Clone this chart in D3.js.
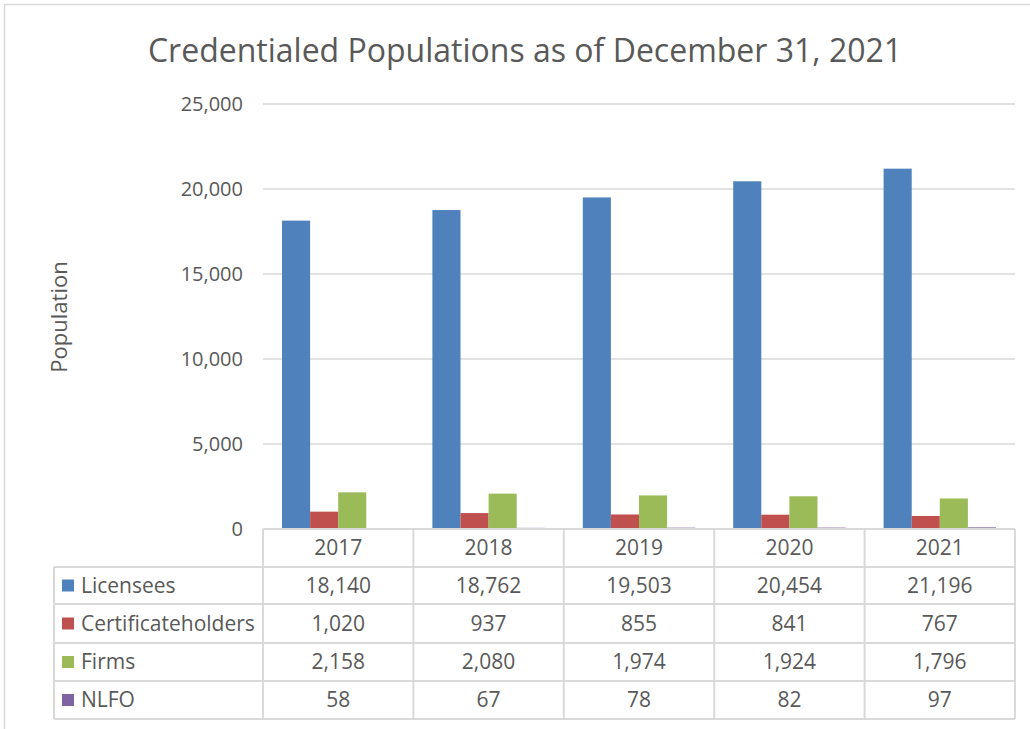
<!DOCTYPE html>
<html>
<head>
<meta charset="utf-8">
<script src="https://cdn.jsdelivr.net/npm/d3@7"></script>
<style>
body { margin: 0; background: #fff; }
svg { display: block; font-family: "Open Sans", sans-serif; }
</style>
</head>
<body>
<svg id="chart" width="1030" height="729"></svg>
<script>
var years = ['2017', '2018', '2019', '2020', '2021']
var seriesNames = ['Licensees', 'Certificateholders', 'Firms', 'NLFO']
var licensees = [18140, 18762, 19503, 20454, 21196]
var certificateholders = [1020, 937, 855, 841, 767]
var firms = [2158, 2080, 1974, 1924, 1796]
var nlfo = [58, 67, 78, 82, 97]
var yTicks = [0, 5000, 10000, 15000, 20000, 25000]
var colors = ['#4f81bd', '#c0504d', '#9bbb59', '#8064a2']

var values = [licensees, certificateholders, firms, nlfo]
var svg = d3.select('#chart')
var fmt = d3.format(',')
var textColor = '#595959'
var lineColor = '#d9d9d9'

// outer frame
svg.append('rect')
    .attr('x', 4.5).attr('y', 4.5)
    .attr('width', 1040).attr('height', 740)
    .attr('fill', 'none').attr('stroke', '#d9d9d9').attr('stroke-width', 1.5)

svg.append('text')
    .attr('x', 525).attr('y', 62)
    .attr('text-anchor', 'middle')
    .attr('font-size', 32)
    .attr('fill', textColor)
    .text('Credentialed Populations as of December 31, 2021')

var x0 = d3.scaleBand().domain(years).range([263, 1015])
var x1 = d3.scaleBand().domain(seriesNames).range([19, x0.bandwidth() - 19])
var y = d3.scaleLinear().domain([0, 25000]).range([529, 104])

// gridlines
svg.append('g').selectAll('line')
    .data(yTicks)
    .enter()
    .append('line')
    .attr('x1', 263).attr('x2', 1015)
    .attr('y1', d => y(d)).attr('y2', d => y(d))
    .attr('stroke', lineColor).attr('stroke-width', 1.5)

svg.append('g').selectAll('text')
    .data(yTicks)
    .enter()
    .append('text')
    .attr('x', 243)
    .attr('y', d => y(d) + 7)
    .attr('text-anchor', 'end')
    .attr('font-size', 20)
    .attr('fill', textColor)
    .text(d => fmt(d))

svg.append('text')
    .attr('transform', 'translate(67,317) rotate(-90)')
    .attr('text-anchor', 'middle')
    .attr('font-size', 22)
    .attr('fill', textColor)
    .text('Population')

// bars
svg.append('g').selectAll('g')
    .data(seriesNames)
    .enter()
    .append('g')
    .attr('fill', (d, i) => colors[i])
    .selectAll('rect')
    .data((d, i) => values[i].map((v, j) => ({ s: d, year: years[j], v: v })))
    .enter()
    .append('rect')
    .attr('x', d => x0(d.year) + x1(d.s))
    .attr('width', x1.bandwidth())
    .attr('y', d => y(d.v))
    .attr('height', d => y(0) - y(d.v))

// data table
var rowTop = [529, 567, 604, 643, 681, 719]
var tbl = svg.append('g')
    .attr('stroke', lineColor).attr('stroke-width', 2)
tbl.selectAll('line.h')
    .data(rowTop)
    .enter()
    .append('line')
    .attr('x1', (d, i) => i < 1 ? 263 : 54)
    .attr('x2', 1015)
    .attr('y1', d => d).attr('y2', d => d)
var vx = years.map(d => x0(d)).concat([1015])
tbl.selectAll('line.v')
    .data(vx)
    .enter()
    .append('line')
    .attr('x1', d => d).attr('x2', d => d)
    .attr('y1', rowTop[0]).attr('y2', rowTop[5])
tbl.append('line')
    .attr('x1', 54).attr('x2', 54)
    .attr('y1', rowTop[1]).attr('y2', rowTop[5])

svg.append('g').selectAll('text')
    .data(years)
    .enter()
    .append('text')
    .attr('x', d => x0(d) + x0.bandwidth() / 2)
    .attr('y', (rowTop[0] + rowTop[1]) / 2 + 7)
    .attr('text-anchor', 'middle')
    .attr('font-size', 21)
    .attr('fill', textColor)
    .text(d => d)

seriesNames.forEach(function (s, i) {
    var top = rowTop[i + 1], bot = rowTop[i + 2]
    var mid = (top + bot) / 2
    svg.append('rect')
        .attr('x', 62).attr('y', mid - 6)
        .attr('width', 12).attr('height', 12)
        .attr('fill', colors[i])
    svg.append('text')
        .attr('x', 81).attr('y', mid + 7)
        .attr('font-size', 21)
        .attr('fill', textColor)
        .text(s)
    svg.append('g').selectAll('text')
        .data(values[i])
        .enter()
        .append('text')
        .attr('x', (d, j) => x0(years[j]) + x0.bandwidth() / 2)
        .attr('y', mid + 7)
        .attr('text-anchor', 'middle')
        .attr('font-size', 21)
        .attr('fill', textColor)
        .text(d => fmt(d))
})
</script>
</body>
</html>
